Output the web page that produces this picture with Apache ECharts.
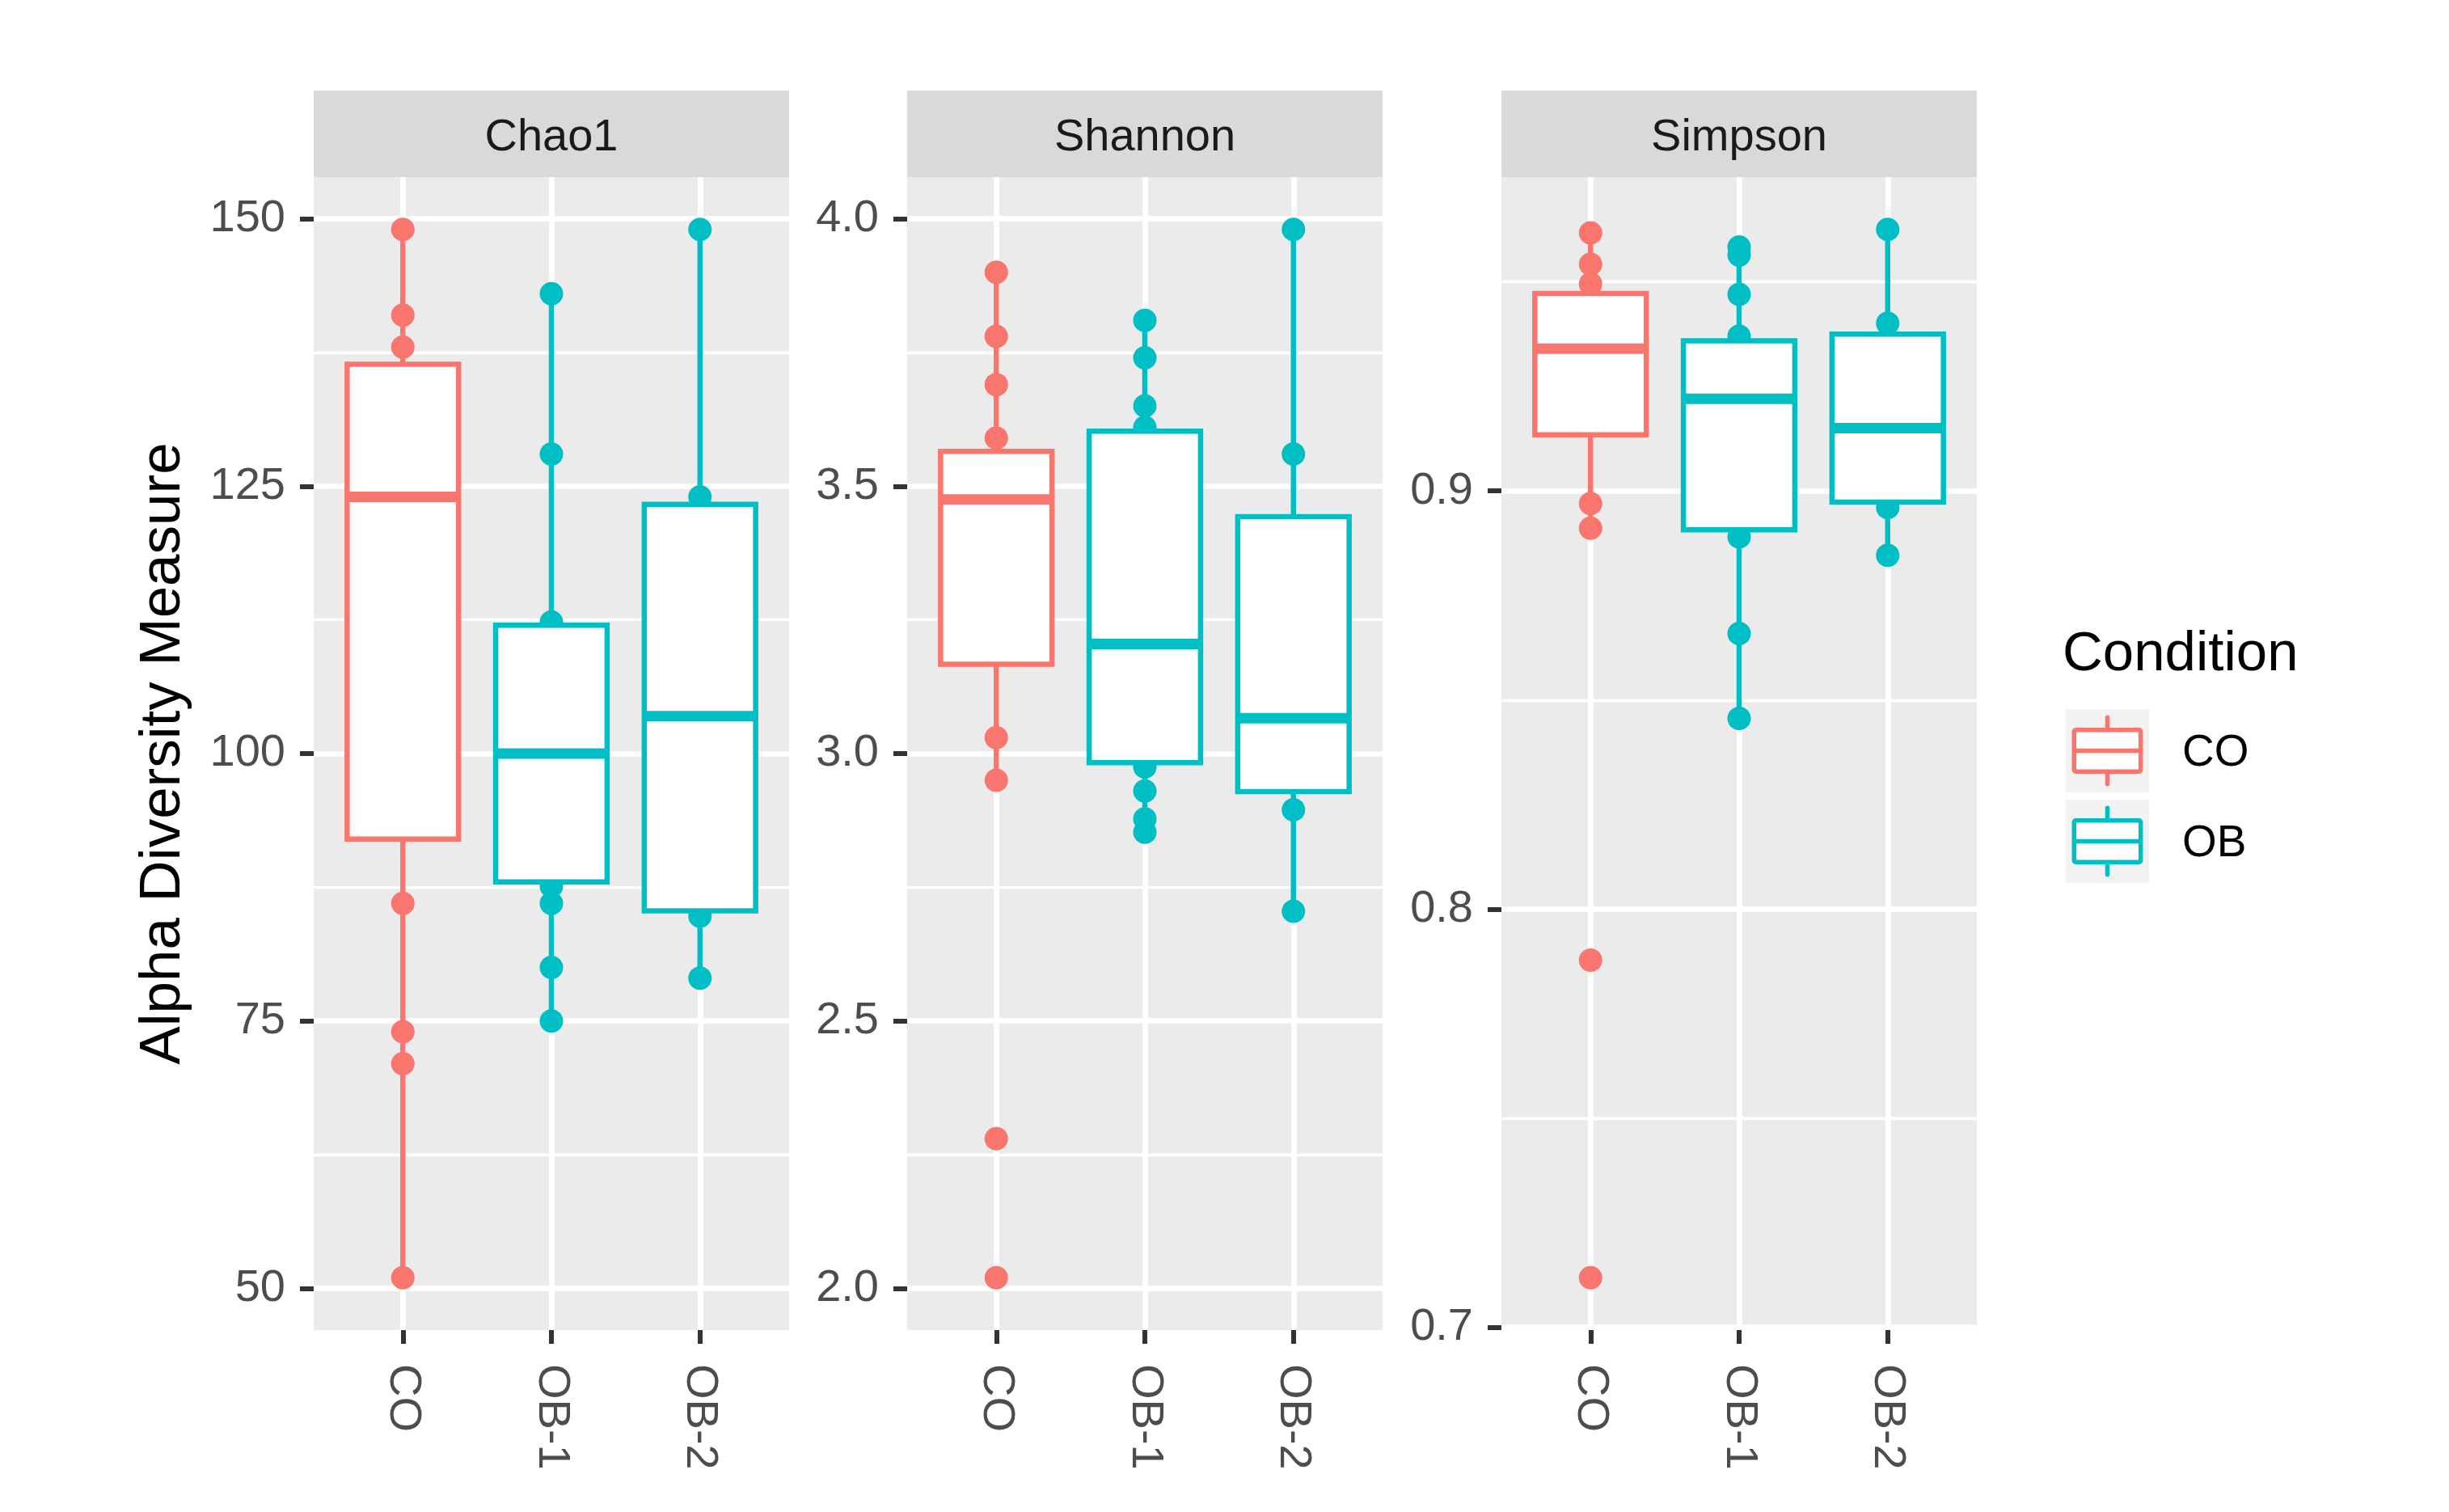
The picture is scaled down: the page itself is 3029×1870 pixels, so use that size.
<!DOCTYPE html>
<html>
<head>
<meta charset="utf-8">
<script src="https://cdn.jsdelivr.net/npm/echarts@6/dist/echarts.min.js"></script>
<style>
html,body{margin:0;padding:0;background:#fff;}
#chart{width:3029px;height:1870px;}
</style>
</head>
<body>
<div id="chart"></div>
<script>
// ---------------- data ----------------
const categories = ['CO', 'OB-1', 'OB-2'];
const categoryGroup = ['CO', 'OB', 'OB'];
const metrics = ['Chao1', 'Shannon', 'Simpson'];
const groupNames = ['CO', 'OB'];

// visible sample points per category (CO, OB-1, OB-2)
const chao1Points = [
  [149, 141, 138, 86, 74, 71, 51],
  [143, 128, 112.3, 87.6, 86, 80, 75],
  [149, 124, 84.8, 79]
];
const shannonPoints = [
  [3.90, 3.78, 3.69, 3.59, 3.03, 2.95, 2.28, 2.02],
  [3.81, 3.74, 3.65, 3.61, 2.975, 2.93, 2.878, 2.853],
  [3.98, 3.56, 2.895, 2.705]
];
const simpsonPoints = [
  [0.9617, 0.9542, 0.9495, 0.897, 0.8911, 0.7878, 0.7119],
  [0.9583, 0.9564, 0.947, 0.937, 0.889, 0.8659, 0.8456],
  [0.9625, 0.9401, 0.896, 0.8846]
];

// box statistics per category: [lower whisker, Q1, median, Q3, upper whisker]
const chao1Boxes = [
  [51, 92.0, 124, 136.4, 149],
  [75, 88.0, 100, 112.0, 143],
  [79, 85.3, 103.5, 123.3, 149]
];
const shannonBoxes = [
  [2.95, 3.167, 3.475, 3.565, 3.90],
  [2.853, 2.983, 3.205, 3.603, 3.81],
  [2.705, 2.929, 3.066, 3.443, 3.98]
];
const simpsonBoxes = [
  [0.8911, 0.9134, 0.934, 0.9472, 0.9617],
  [0.8456, 0.8907, 0.922, 0.9359, 0.9583],
  [0.8846, 0.8973, 0.915, 0.9375, 0.9625]
];

// axis tick labels
const chao1Ticks = [50, 75, 100, 125, 150];
const chao1Minor = [62.5, 87.5, 112.5, 137.5];
const shannonTicks = [2.0, 2.5, 3.0, 3.5, 4.0];
const shannonMinor = [2.25, 2.75, 3.25, 3.75];
const simpsonTicks = [0.7, 0.8, 0.9];
const simpsonMinor = [0.75, 0.85, 0.95];

// ---------------- styling / layout ----------------
const FONT = '"Liberation Sans", Arial, Helvetica, sans-serif';
const COLORS = {CO: '#F8766D', OB: '#00BFC4'};
const PANEL_LEFT = [388, 1122, 1857];
const PANEL_W = 588;
const PANEL_TOP = 219;
const PANEL_BOTTOM = 1645;
const STRIP_TOP = 112;
const BOX_W = 0.75;

const facetPoints = [chao1Points, shannonPoints, simpsonPoints];
const facetBoxes = [chao1Boxes, shannonBoxes, simpsonBoxes];
const facetTicks = [chao1Ticks, shannonTicks, simpsonTicks];
const facetMinor = [chao1Minor, shannonMinor, simpsonMinor];
const facetDecimals = [0, 1, 1];

function extentOf(pts) {
  const all = [].concat(...pts);
  const mn = Math.min(...all), mx = Math.max(...all);
  const r = mx - mn;
  return [mn - 0.05 * r, mx + 0.05 * r];
}

const grids = [], xAxes = [], yAxes = [], series = [], graphics = [];

function renderBox(params, api) {
  const x = api.value(0);
  const lo = api.coord([x, api.value(1)]);
  const q1 = api.coord([x, api.value(2)]);
  const md = api.coord([x, api.value(3)]);
  const q3 = api.coord([x, api.value(4)]);
  const hi = api.coord([x, api.value(5)]);
  const w = api.size([BOX_W, 0])[0];
  const color = COLORS[categoryGroup[params.dataIndex]];
  const lw = 6.5;
  return {
    type: 'group',
    children: [
      {type: 'line', shape: {x1: q3[0], y1: q3[1], x2: hi[0], y2: hi[1]}, style: {stroke: color, lineWidth: lw}},
      {type: 'line', shape: {x1: q1[0], y1: q1[1], x2: lo[0], y2: lo[1]}, style: {stroke: color, lineWidth: lw}},
      {type: 'rect', shape: {x: md[0] - w / 2, y: q3[1], width: w, height: q1[1] - q3[1]},
        style: {fill: '#FFFFFF', stroke: color, lineWidth: lw}},
      {type: 'line', shape: {x1: md[0] - w / 2, y1: md[1], x2: md[0] + w / 2, y2: md[1]},
        style: {stroke: color, lineWidth: 13}}
    ]
  };
}

metrics.forEach(function (metric, gi) {
  const ext = extentOf(facetPoints[gi]);
  grids.push({
    left: PANEL_LEFT[gi], top: PANEL_TOP, width: PANEL_W, height: PANEL_BOTTOM - PANEL_TOP,
    show: true, backgroundColor: '#EBEBEB', borderWidth: 0
  });
  xAxes.push({
    type: 'value', gridIndex: gi, min: 0.4, max: 3.6,
    axisLine: {show: false},
    axisTick: {show: true, length: 17, customValues: [1, 2, 3], lineStyle: {color: '#333333', width: 6}},
    axisLabel: {
      customValues: [1, 2, 3], rotate: -90, margin: 42, fontSize: 56, color: '#4D4D4D', fontFamily: FONT,
      formatter: function (v) { return categories[Math.round(v) - 1] || ''; }
    },
    splitLine: {show: true, lineStyle: {color: '#FFFFFF', width: 6.7}}
  });
  const dec = facetDecimals[gi];
  const mainY = {
    type: 'value', gridIndex: gi, min: ext[0], max: ext[1], position: 'left',
    axisLine: {show: false},
    axisTick: {show: true, length: 17, customValues: facetTicks[gi], lineStyle: {color: '#333333', width: 6}},
    axisLabel: {
      customValues: facetTicks[gi], margin: 35, fontSize: 56, color: '#4D4D4D', fontFamily: FONT,
      formatter: function (v) { return Number(v).toFixed(dec); }
    },
    splitLine: {show: true, lineStyle: {color: '#FFFFFF', width: 6.7}}
  };
  if (gi === 0) {
    mainY.name = 'Alpha Diversity Measure';
    mainY.nameLocation = 'middle';
    mainY.nameGap = 150;
    mainY.nameTextStyle = {fontSize: 71, color: '#000000', fontFamily: FONT};
  }
  const mainIndex = yAxes.length;
  yAxes.push(mainY);
  yAxes.push({
    type: 'value', gridIndex: gi, min: ext[0], max: ext[1], position: 'left',
    axisLine: {show: false},
    axisTick: {show: false, customValues: facetMinor[gi]},
    axisLabel: {show: false, customValues: facetMinor[gi]},
    splitLine: {show: true, lineStyle: {color: '#FFFFFF', width: 3.3}}
  });

  // points
  groupNames.forEach(function (g) {
    const data = [];
    facetPoints[gi].forEach(function (vals, ci) {
      if (categoryGroup[ci] !== g) return;
      vals.forEach(function (v) { data.push([ci + 1, v]); });
    });
    series.push({
      type: 'scatter', name: g, xAxisIndex: gi, yAxisIndex: mainIndex,
      data: data, symbol: 'circle', symbolSize: 29, z: 2,
      itemStyle: {color: COLORS[g], opacity: 1}, silent: true
    });
  });
  // boxes
  series.push({
    type: 'custom', name: metric + ' boxes', xAxisIndex: gi, yAxisIndex: mainIndex,
    renderItem: renderBox, z: 3, silent: true,
    encode: {x: 0, y: [1, 2, 3, 4, 5]},
    data: facetBoxes[gi].map(function (b, ci) { return [ci + 1].concat(b); })
  });

  // facet strip
  graphics.push({
    type: 'rect', left: PANEL_LEFT[gi], top: STRIP_TOP,
    shape: {width: PANEL_W, height: PANEL_TOP - STRIP_TOP},
    style: {fill: '#D9D9D9'}, z: 1
  });
  graphics.push({
    type: 'text', x: PANEL_LEFT[gi] + PANEL_W / 2, y: (STRIP_TOP + PANEL_TOP) / 2 + 5,
    style: {text: metric, fontSize: 56, fill: '#1A1A1A', fontFamily: FONT, align: 'center', verticalAlign: 'middle'},
    z: 2
  });
});

// legend (Condition)
const LEG_X = 2555, LEG_KEY = 103, LEG_TOP = [877, 989];
graphics.push({
  type: 'text', x: 2551, y: 810,
  style: {text: 'Condition', fontSize: 69, fill: '#000000', fontFamily: FONT, align: 'left', verticalAlign: 'middle'}
});
groupNames.forEach(function (g, i) {
  const t = LEG_TOP[i], c = COLORS[g], k = LEG_KEY;
  graphics.push({type: 'rect', shape: {x: LEG_X, y: t, width: k, height: k}, style: {fill: '#F2F2F2'}});
  graphics.push({type: 'line', shape: {x1: LEG_X + k / 2, y1: t + 0.1 * k, x2: LEG_X + k / 2, y2: t + 0.25 * k},
    style: {stroke: c, lineWidth: 5.5, lineCap: 'round'}});
  graphics.push({type: 'line', shape: {x1: LEG_X + k / 2, y1: t + 0.75 * k, x2: LEG_X + k / 2, y2: t + 0.9 * k},
    style: {stroke: c, lineWidth: 5.5, lineCap: 'round'}});
  graphics.push({type: 'rect', shape: {x: LEG_X + 0.1 * k, y: t + 0.25 * k, width: 0.8 * k, height: 0.5 * k, r: 2},
    style: {fill: '#FFFFFF', stroke: c, lineWidth: 5.5}});
  graphics.push({type: 'line', shape: {x1: LEG_X + 0.1 * k, y1: t + 0.5 * k, x2: LEG_X + 0.9 * k, y2: t + 0.5 * k},
    style: {stroke: c, lineWidth: 5.5}});
  graphics.push({type: 'text', x: 2699, y: t + k / 2 + 3,
    style: {text: g, fontSize: 55, fill: '#000000', fontFamily: FONT, align: 'left', verticalAlign: 'middle'}});
});

const chart = echarts.init(document.getElementById('chart'), null, {renderer: 'canvas'});
chart.setOption({
  backgroundColor: '#FFFFFF',
  animation: false,
  textStyle: {fontFamily: FONT},
  grid: grids,
  xAxis: xAxes,
  yAxis: yAxes,
  series: series,
  graphic: graphics
});
</script>
</body>
</html>
